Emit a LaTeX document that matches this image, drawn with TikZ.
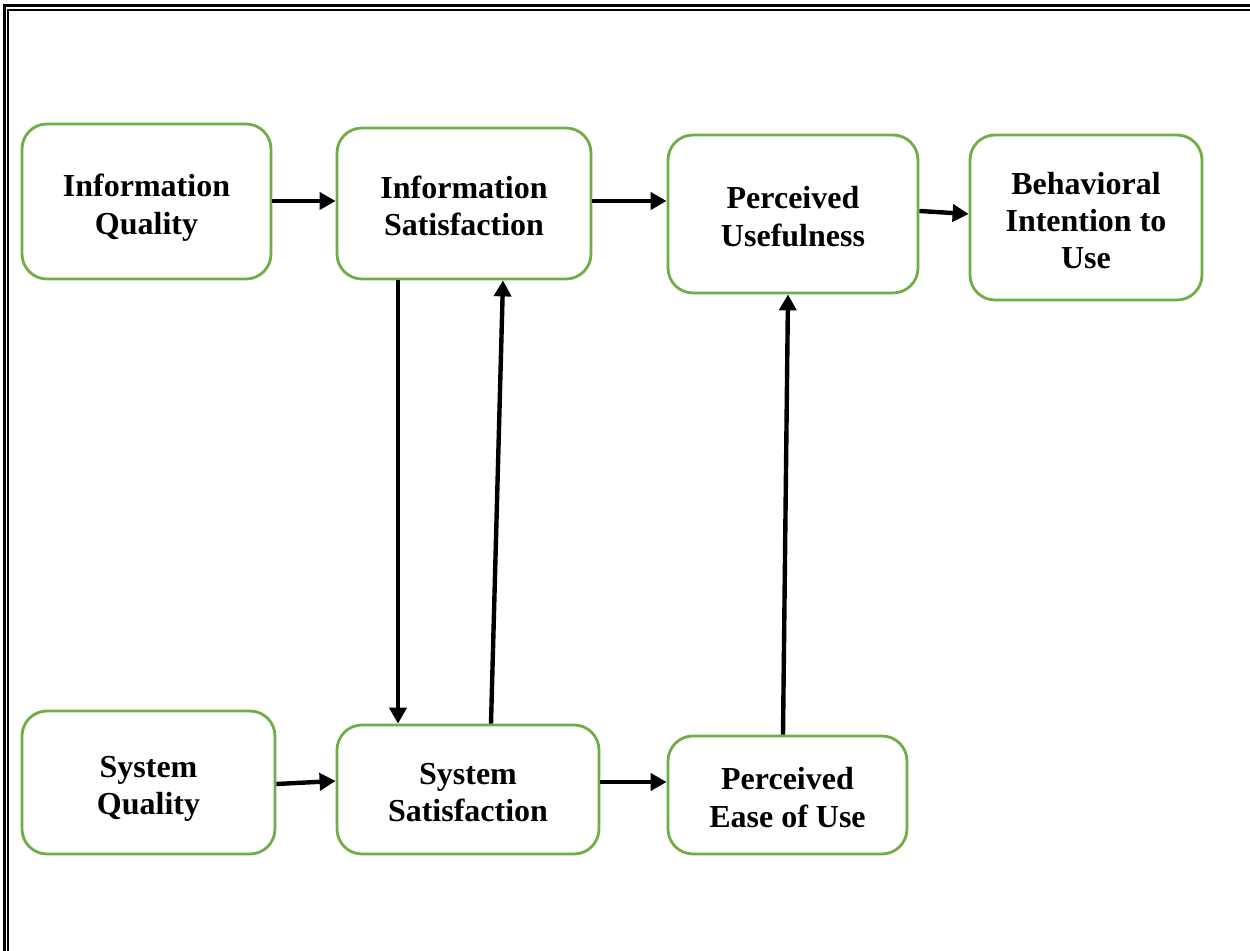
\documentclass[tikz,border=0pt]{standalone}
\usepackage{fontspec}
\setmainfont{Liberation Serif}
\usetikzlibrary{arrows.meta}
\definecolor{boxgreen}{RGB}{112,173,71}
\begin{document}
\begin{tikzpicture}[x=0.5pt,y=-0.5pt,
  box/.style={draw=boxgreen, line width=1.4pt, rounded corners=12.5pt,
    inner sep=0pt, fill=white},
  caption/.style={align=center, inner sep=0pt,
    font=\fontsize{16}{18.7}\selectfont\bfseries},
  link/.style={line width=2.2pt, -{Triangle[length=8pt,width=8.5pt]}},
  frameline/.style={line cap=rect}]
\useasboundingbox (0,0) rectangle (1250,951);
% double frame along the top and left edges
\draw[frameline, line width=1.5pt] (4.5,951) -- (4.5,6) -- (1250,6);
\draw[frameline, line width=1pt] (8,951) -- (8,10) -- (1250,10);

% construct boxes
\node[box, minimum width=124.5pt, minimum height=77.5pt] (iq) at (146.5,201.5) {};
\node[box, minimum width=127pt, minimum height=75.5pt] (is) at (464,203.5) {};
\node[box, minimum width=125pt, minimum height=79pt] (pu) at (793,214) {};
\node[box, minimum width=116pt, minimum height=82.5pt] (bi) at (1086,217.5) {};
\node[box, minimum width=126.5pt, minimum height=71.5pt] (sq) at (148.5,782.5) {};
\node[box, minimum width=131pt, minimum height=64.5pt] (ss) at (468,789.5) {};
\node[box, minimum width=119.5pt, minimum height=59pt] (peu) at (787.5,795) {};

% captions
\node[caption] (iqt) at ([yshift=-3pt]iq.center) {Information\\Quality};
\node[caption] (ist) at ([yshift=-1.2pt]is.center) {Information\\Satisfaction};
\node[caption] (put) at ([yshift=-1.3pt]pu.center) {Perceived\\Usefulness};
\node[caption] (bit) at ([yshift=-1.5pt]bi.center) {Behavioral\\Intention to\\Use};
\node[caption] (sqt) at ([yshift=-3.2pt]sq.center) {System\\Quality};
\node[caption] (sst) at ([yshift=-1.5pt]ss.center) {System\\Satisfaction};
\node[caption] (peut) at ([yshift=-1.3pt]peu.center) {Perceived\\Ease of Use};

% relations
\draw[link] (iq.east |- 0,201) -- (is.west |- 0,201);
\draw[link] (is.east |- 0,201) -- (pu.west |- 0,201);
\draw[link] (pu.east |- 0,211) -- (bi.west |- 0,214);
\draw[link] (398,0 |- is.south) -- (398,0 |- ss.north);
\draw[link] (491,0 |- ss.north) -- (503,0 |- is.south);
\draw[link] (sq.east |- 0,784) -- (ss.west |- 0,781);
\draw[link] (ss.east |- 0,782) -- (peu.west |- 0,782);
\draw[link] (783,0 |- peu.north) -- (788,0 |- pu.south);
\end{tikzpicture}
\end{document}
